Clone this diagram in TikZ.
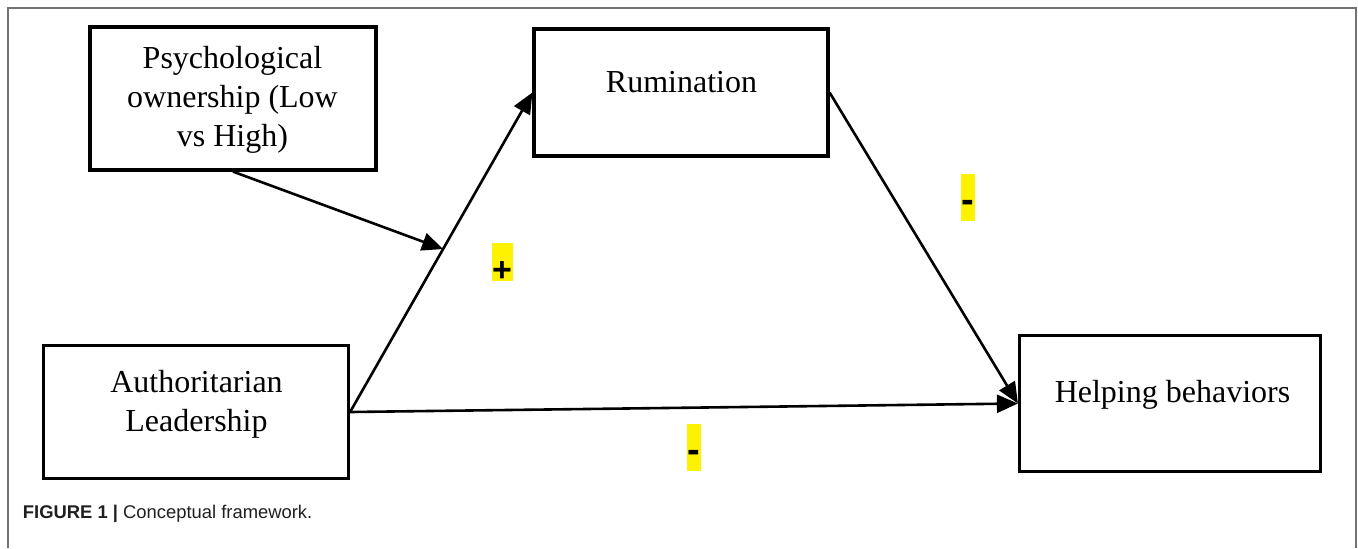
\documentclass[tikz,border=0pt]{standalone}
\usepackage{fontspec}
\setmainfont{Liberation Serif}
\newfontfamily\capfont{Liberation Sans}
\usetikzlibrary{arrows.meta,calc}
\begin{document}
\begin{tikzpicture}[x=0.5pt,y=-0.5pt,
  box/.style={draw,line width=1.6pt,inner sep=0pt,rectangle},
  boxtext/.style={font=\fontsize{16}{19.5}\selectfont,inner sep=0pt,align=center},
  conn/.style={line width=1.3pt,-{Triangle[length=10.5pt,width=9pt]}},
  hlplus/.style={fill=yellow,inner sep=0pt,font=\capfont\bfseries\fontsize{17}{19}\selectfont,
    minimum width=10.5pt,minimum height=19pt,text height=19pt,text depth=0pt},
  hlminus/.style={fill=yellow,inner sep=0pt,font=\capfont\bfseries\fontsize{19}{24}\selectfont,
    minimum width=6.85pt,minimum height=23.3pt,text height=19.45pt,text depth=3.85pt},
  caption/.style={font=\capfont\fontsize{9.2}{11}\selectfont,inner sep=0pt,text=black!88}
]
\useasboundingbox (0,0) rectangle (1358,548);
\draw[black!55,line width=0.6pt] (8,548) -- (8,8) -- (1356,8) -- (1356,548);

% boxes
\node[box,minimum width=143pt,minimum height=71.5pt] (psych) at (233,98.5) {};
\node[box,minimum width=147pt,minimum height=63.5pt] (rum) at (681,92.5) {};
\node[box,minimum width=152.5pt,minimum height=66.5pt] (auth) at (196,412) {};
\node[box,minimum width=150.5pt,minimum height=68pt] (help) at (1170,403.5) {};

% box texts
\node[boxtext] (psychtext) at (232.5,99.6) {Psychological\\ownership (Low\\vs High)};
\node[boxtext,anchor=base] (rumtext) at (681.5,92) {Rumination};
\node[boxtext] (authtext) at (196.5,404) {Authoritarian\\Leadership};
\node[boxtext,anchor=base] (helptext) at (1172.5,402) {Helping behaviors};

% connectors
\draw[conn] (auth.east) -- (rum.west);
\draw[conn] (rum.east) -- (help.west);
\draw[conn] (auth.east) -- (help.west);
\coordinate (m) at ($(auth.east)!0.51!(rum.west)$);
\draw[conn] (psych.south) -- (m);

% signs
\node[hlplus] (plus) at (502,262) {+};
\node[hlminus] (minusa) at (968,197.3) {-};
\node[hlminus] (minusb) at (694,447.3) {-};

% caption
\node[caption,anchor=base west] (cap) at (22.5,518) {\textbf{FIGURE 1 |} Conceptual framework.};
\end{tikzpicture}
\end{document}
